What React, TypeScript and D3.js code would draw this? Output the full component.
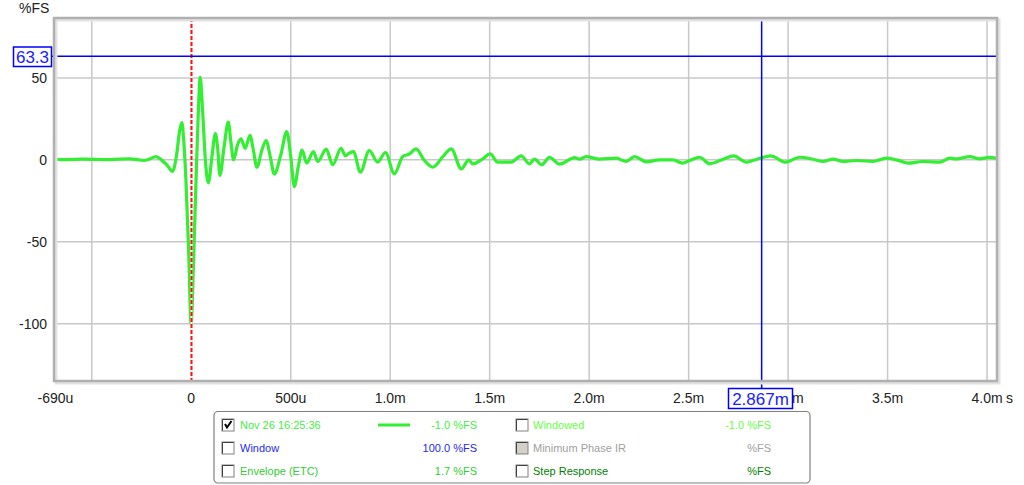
import React from 'react'
import * as d3 from 'd3'

// impulse response, time in ms, level in %FS
const timeMs = [
  -0.69, -0.62, -0.55, -0.48, -0.42, -0.36, -0.31, -0.27, -0.24, -0.21, -0.178, -0.15, -0.12, -0.094,
  -0.075, -0.058, -0.047, -0.038, -0.027, -0.013, -0.001, 0.012, 0.024, 0.035, 0.045, 0.056, 0.072,
  0.086, 0.104, 0.121, 0.132, 0.144, 0.165, 0.186, 0.2, 0.213, 0.232, 0.25, 0.271, 0.295, 0.312, 0.33,
  0.355, 0.376, 0.397, 0.417, 0.45, 0.48, 0.5, 0.518, 0.538, 0.557, 0.58, 0.614, 0.636, 0.678, 0.711,
  0.753, 0.775, 0.79, 0.815, 0.85, 0.895, 0.937, 0.976, 1.021, 1.063, 1.097, 1.13, 1.17, 1.214, 1.265,
  1.307, 1.357, 1.395, 1.415, 1.465, 1.503, 1.54, 1.608, 1.658, 1.7, 1.725, 1.762, 1.8, 1.851, 1.927,
  1.952, 1.985, 2.052, 2.136, 2.186, 2.228, 2.287, 2.354, 2.421, 2.468, 2.505, 2.555, 2.606, 2.673,
  2.726, 2.79, 2.823, 2.912, 2.988, 3.058, 3.125, 3.176, 3.226, 3.276, 3.343, 3.427, 3.494, 3.544,
  3.603, 3.678, 3.763, 3.813, 3.846, 3.913, 3.964, 4.01, 4.05,
]
const levelFS = [
  0.3, 0.2, 0.4, 0.3, 0.1, 0.5, 0.6, 0.1, -0.4, 0.5, 2, 0, -3.5, -7,
  2, 18, 22.8, 12, -12, -56, -100, -60, -12, 28, 50.4, 32, -2,
  -14, 2, 16, 8, -9.5, 8, 23, 10, 0, 9, 12.8, 7, 15, 6, -4.5,
  6, 11.8, 2, -8.7, 3, 17.3, 2, -16.3, -4, 6, -2, 5, -1, 6.5, -3,
  7, 2.5, 3.8, 5, -7.5, 5.7, -1.4, 4.5, -8.5, 2, 3.6, 6.7, 0, -4.5, 2,
  6.7, -5.5, 0, -2.5, 0.6, 3.6, -1.4, -1.4, 2.4, -2.4, 0.4, -3, 1.6, -2.6, 1.4,
  0.4, 2, 0.4, 1, -1, 2, -1.2, 0, 0, -2, -0.4, 1.6, -2.4, 0.4,
  2.4, -1.4, -0.4, 2.4, -1.4, 1.6, 0.4, -1, 0.4, -1, -0.4, -1, 1, 0,
  -2, -1, -1.4, 1, 0.6, 2, 0.6, 1.5, 1,
]

const xGrid = [-0.5, 0, 0.5, 1, 1.5, 2, 2.5, 3, 3.5, 4]
const xTickValues = [-0.69, 0, 0.5, 1, 1.5, 2, 2.5, 3, 3.5, 4]
const xTickLabels = ['-690u', '0', '500u', '1.0m', '1.5m', '2.0m', '2.5m', '3.0m', '3.5m', '4.0m']
const yTicks = [50, 0, -50, -100]

const cursorLevel = 63.3
const cursorTime = 2.867

const legendLeft = [
  { name: 'Nov 26 16:25:36', value: '-1.0 %FS', color: '#44ee44', checked: true, sample: true },
  { name: 'Window', value: '100.0 %FS', color: '#2828f0', checked: false, sample: false },
  { name: 'Envelope (ETC)', value: '1.7 %FS', color: '#33cc33', checked: false, sample: false },
]
const legendRight = [
  { name: 'Windowed', value: '-1.0 %FS', color: '#66ff44', disabled: false },
  { name: 'Minimum Phase IR', value: '%FS', color: '#a0a0a0', disabled: true },
  { name: 'Step Response', value: '%FS', color: '#008000', disabled: false },
]

const font = "'Liberation Sans', Arial, sans-serif"

export default function App() {
  const left = 54
  const right = 997
  const top = 18
  const bottom = 381

  const x = d3.scaleLinear().domain([-0.69, 4.05]).range([left, right])
  const y = d3.scaleLinear().domain([-135, 86.6]).range([bottom, top])

  const points: [number, number][] = timeMs.map((t, i) => [t, levelFS[i]])
  const line = d3
    .line<[number, number]>()
    .x((d) => x(d[0]))
    .y((d) => y(d[1]))
    .curve(d3.curveMonotoneX)

  const rowY = [425, 448, 471]
  const zeroX = Math.round(x(0)) + 0.5

  const checkbox = (cx: number, cy: number, checked: boolean, disabled: boolean, key: string) => (
    <g key={key}>
      <rect x={cx} y={cy - 6} width={12} height={12} fill={disabled ? '#d4d0c8' : '#fff'} stroke="#808080" strokeWidth={1} />
      <path d={`M${cx + 0.5},${cy - 5.5}H${cx + 11.5}`} stroke="#404040" />
      <path d={`M${cx + 0.5},${cy - 5.5}V${cy + 5.5}`} stroke="#404040" />
      {checked && (
        <path d={`M${cx + 3},${cy - 1} L${cx + 5},${cy + 2.5} L${cx + 9.5},${cy - 4}`} fill="none" stroke="#000" strokeWidth={2} />
      )}
    </g>
  )

  return (
    <svg width={1024} height={485} style={{ position: 'absolute', left: 0, top: 0, background: '#fff' }}>
      {/* grid */}
      {xGrid.map((t) => (
        <line key={`gx${t}`} x1={x(t)} x2={x(t)} y1={top} y2={bottom} stroke="#c8c8c8" strokeWidth={1.5} />
      ))}
      {yTicks.map((v) => (
        <line key={`gy${v}`} x1={left} x2={right} y1={y(v)} y2={y(v)} stroke="#c8c8c8" strokeWidth={1.5} />
      ))}

      {/* trace */}
      <path d={line(points) || ''} fill="none" stroke="#33ee33" strokeWidth={3.2} strokeLinejoin="round" />

      {/* zero time marker */}
      <line x1={zeroX} x2={zeroX} y1={top} y2={bottom} stroke="#f4f4f4" strokeWidth={2} />
      <line x1={zeroX} x2={zeroX} y1={top} y2={bottom} stroke="#ff1010" strokeWidth={2} strokeDasharray="4,2" />

      {/* cursors */}
      <line x1={left - 2} x2={right} y1={y(cursorLevel)} y2={y(cursorLevel)} stroke="#0000ff" strokeWidth={1.5} />
      <line x1={x(cursorTime)} x2={x(cursorTime)} y1={top} y2={388} stroke="#0000ff" strokeWidth={1.5} />

      {/* frame */}
      <rect x={left + 2} y={top + 2} width={right - left} height={bottom - top} fill="none" stroke="#e2e2e2" strokeWidth={3} />
      <rect x={left} y={top} width={right - left} height={bottom - top} fill="none" stroke="#b0b0b0" strokeWidth={2.5} />

      {/* axis labels */}
      <text x={19} y={13} fontFamily={font} fontSize={14} fill="#222">%FS</text>
      {yTicks.map((v) => (
        <text key={`ty${v}`} x={47} y={y(v) + 5} textAnchor="end" fontFamily={font} fontSize={14} fill="#222">
          {v}
        </text>
      ))}
      {xTickValues.map((t, i) => (
        <text key={`tx${t}`} x={i === 0 ? 55.5 : x(t)} y={403} textAnchor="middle" fontFamily={font} fontSize={14} fill="#222">
          {xTickLabels[i]}
        </text>
      ))}
      <text x={1006} y={403} fontFamily={font} fontSize={14} fill="#222">s</text>

      {/* cursor readouts */}
      <rect x={13.5} y={47} width={38} height={19.5} fill="#fff" stroke="#0000ff" strokeWidth={1.5} />
      <text x={32.5} y={63} textAnchor="middle" fontFamily={font} fontSize={17} fill="#2020ff">
        {cursorLevel.toFixed(1)}
      </text>
      <rect x={728.5} y={388.5} width={64} height={20} fill="#fff" stroke="#0000ff" strokeWidth={1.5} />
      <text x={760.5} y={405} textAnchor="middle" fontFamily={font} fontSize={17} fill="#2020ff">
        {cursorTime.toFixed(3)}m
      </text>

      {/* legend */}
      <rect x={214} y={411.5} width={596} height={71.5} rx={4} fill="#fff" stroke="#808080" strokeWidth={1.2} />
      {legendLeft.map((d, i) => (
        <g key={d.name}>
          {checkbox(222, rowY[i], d.checked, false, `cbl${i}`)}
          <text x={240} y={rowY[i] + 4} fontFamily={font} fontSize={11} fill={d.color}>{d.name}</text>
          {d.sample && <line x1={378} x2={410} y1={rowY[i]} y2={rowY[i]} stroke="#33ee33" strokeWidth={3} />}
          <text x={477} y={rowY[i] + 4} textAnchor="end" fontFamily={font} fontSize={11} fill={d.color}>{d.value}</text>
        </g>
      ))}
      {legendRight.map((d, i) => (
        <g key={d.name}>
          {checkbox(516, rowY[i], false, d.disabled, `cbr${i}`)}
          <text x={533} y={rowY[i] + 4} fontFamily={font} fontSize={11} fill={d.color}>{d.name}</text>
          <text x={771} y={rowY[i] + 4} textAnchor="end" fontFamily={font} fontSize={11} fill={d.color}>{d.value}</text>
        </g>
      ))}
    </svg>
  )
}
